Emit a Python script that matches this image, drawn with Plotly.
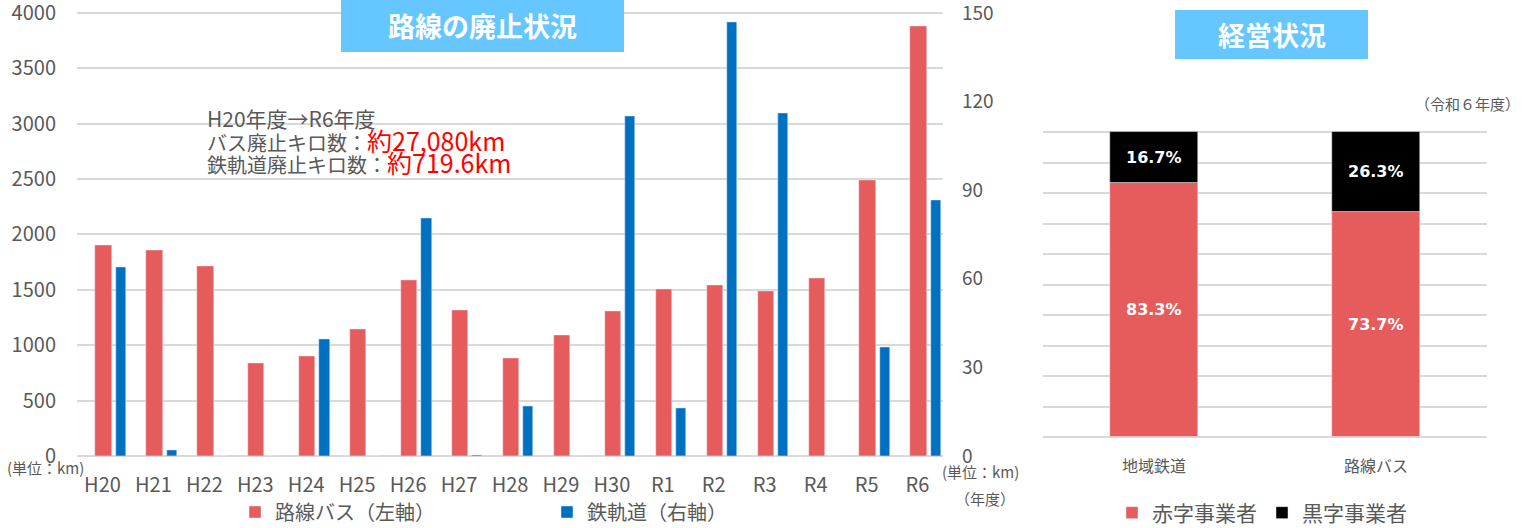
import plotly.graph_objects as go

# ---- data: left chart (route abolition) ----
years = ["H20", "H21", "H22", "H23", "H24", "H25", "H26", "H27", "H28",
         "H29", "H30", "R1", "R2", "R3", "R4", "R5", "R6"]
bus_km = [1905, 1855, 1716, 842, 901, 1145, 1590, 1312, 886,
          1087, 1303, 1508, 1544, 1490, 1607, 2490, 3883]
rail_km = [63.9, 2.1, 0, 0, 39.4, 0, 80.6, 0.4, 16.9,
           0, 115.1, 16.2, 146.9, 116.0, 0, 36.7, 86.7]
left_ticks = [0, 500, 1000, 1500, 2000, 2500, 3000, 3500, 4000]
right_ticks = [0, 30, 60, 90, 120, 150]

# ---- data: right chart (business condition) ----
operators = ["地域鉄道", "路線バス"]
deficit_pct = [83.3, 73.7]
surplus_pct = [16.7, 26.3]

W, H = 1524, 528
RED = "#E65C5C"
BLUE = "#0070C0"
GRAY = "#595959"
GRID = "#D9D9D9"
TITLE_BG = "#66C6FF"
FONT = "Noto Sans CJK JP"
EPS = 1.004  # small headroom so the top gridline is not clipped


def px(x):
    return x / W


def py(y):
    return 1 - y / H


fig = go.Figure()

fig.add_trace(go.Bar(
    x=years, y=bus_km, name="路線バス（左軸）", marker_color=RED,
    offset=-0.14, width=0.32, xaxis="x", yaxis="y", legend="legend",
))
fig.add_trace(go.Bar(
    x=years, y=rail_km, name="鉄軌道（右軸）", marker_color=BLUE,
    offset=0.26, width=0.2, xaxis="x", yaxis="y2", legend="legend2",
))

bar_text_font = dict(family="DejaVu Sans", size=16, color="white", weight="bold")
fig.add_trace(go.Bar(
    x=operators, y=deficit_pct, name="赤字事業者", marker_color=RED,
    width=0.4, xaxis="x2", yaxis="y3", legend="legend3",
    text=[f"{v:.1f}%" for v in deficit_pct], textposition="inside",
    insidetextanchor="middle", textfont=bar_text_font,
))
fig.add_trace(go.Bar(
    x=operators, y=surplus_pct, base=deficit_pct, name="黒字事業者",
    marker_color="#000000", width=0.4, xaxis="x2", yaxis="y3", legend="legend3",
    text=[f"{v:.1f}%" for v in surplus_pct], textposition="inside",
    insidetextanchor="middle", textfont=bar_text_font,
))

legend_common = dict(orientation="h", yanchor="middle", xanchor="left",
                     bgcolor="rgba(0,0,0,0)", borderwidth=0)

fig.update_layout(
    width=W, height=H,
    margin=dict(l=0, r=0, t=0, b=0, autoexpand=False),
    paper_bgcolor="white", plot_bgcolor="white",
    font=dict(family=FONT, color=GRAY),
    barmode="overlay",
    bargap=0,
    xaxis=dict(domain=[px(77), px(943)], type="category", range=[-0.5, 16.5],
               anchor="y", showgrid=False, showline=False, ticks="", automargin=False,
               tickfont=dict(size=20, color=GRAY), ticklabelstandoff=15),
    yaxis=dict(domain=[py(456), py(11.2)], range=[0, 4000 * EPS], tickvals=left_ticks,
               showgrid=True, gridcolor=GRID, gridwidth=1.5,
               zeroline=True, zerolinecolor=GRID, zerolinewidth=1.5, automargin=False,
               showline=False, ticks="", anchor="x", ticklabeloverflow="allow",
               tickfont=dict(size=20, color=GRAY), ticklabelstandoff=20),
    yaxis2=dict(overlaying="y", side="right", range=[0, 150 * EPS], tickvals=right_ticks,
                showgrid=False, zeroline=False, showline=False, ticks="", anchor="x",
                automargin=False, ticklabeloverflow="allow",
                tickfont=dict(size=19, color=GRAY), ticklabelstandoff=18),
    xaxis2=dict(domain=[px(1043), px(1487)], type="category", range=[-0.5, 1.5],
                anchor="y3", showgrid=False, showline=False, ticks="", automargin=False,
                tickfont=dict(size=16, color=GRAY), ticklabelstandoff=18),
    yaxis3=dict(domain=[py(437), py(130.8)], range=[0, 100 * EPS], dtick=10,
                showgrid=True, gridcolor=GRID, gridwidth=1.5,
                zeroline=True, zerolinecolor=GRID, zerolinewidth=1.5, automargin=False,
                showline=False, showticklabels=False, ticks="", anchor="x2"),
    legend=dict(x=px(235), y=py(512), font=dict(size=20, color=GRAY), **legend_common),
    legend2=dict(x=px(547), y=py(512), font=dict(size=20, color=GRAY), **legend_common),
    legend3=dict(x=px(1112), y=py(513), font=dict(size=21, color=GRAY), **legend_common),
    showlegend=True,
)

# title boxes
fig.add_shape(type="rect", xref="paper", yref="paper",
              x0=px(341), x1=px(624), y0=py(52), y1=py(-2),
              fillcolor=TITLE_BG, line_width=0, layer="above")
fig.add_shape(type="rect", xref="paper", yref="paper",
              x0=px(1175), x1=px(1368), y0=py(59), y1=py(10),
              fillcolor=TITLE_BG, line_width=0, layer="above")

annos = [
    dict(x=px(482.5), y=py(26), text="<b>路線の廃止状況</b>", xanchor="center",
         yanchor="middle", font=dict(size=27, color="white")),
    dict(x=px(1271.5), y=py(34), text="<b>経営状況</b>", xanchor="center",
         yanchor="middle", font=dict(size=27, color="white")),
    dict(x=px(205), y=py(118), text="H20年度→R6年度", xanchor="left",
         yanchor="middle", font=dict(size=21, color=GRAY)),
    dict(x=px(205), y=py(140),
         text="バス廃止キロ数：<span style='color:#FF0000;font-size:25px'>約27,080km</span>",
         xanchor="left", yanchor="middle", font=dict(size=20, color=GRAY)),
    dict(x=px(205), y=py(162),
         text="鉄軌道廃止キロ数：<span style='color:#FF0000;font-size:25px'>約719.6km</span>",
         xanchor="left", yanchor="middle", font=dict(size=20, color=GRAY)),
    dict(x=px(5), y=py(467), text="(単位：km)", xanchor="left",
         yanchor="middle", font=dict(size=15, color=GRAY)),
    dict(x=px(940), y=py(471), text="(単位：km)", xanchor="left",
         yanchor="middle", font=dict(size=15, color=GRAY)),
    dict(x=px(953), y=py(498), text="（年度）", xanchor="left",
         yanchor="middle", font=dict(size=15, color=GRAY)),
    dict(x=px(1522), y=py(103), text="（令和６年度）", xanchor="right",
         yanchor="middle", font=dict(size=15, color=GRAY)),
]
for a in annos:
    fig.add_annotation(xref="paper", yref="paper", showarrow=False, **a)

fig.write_html(
    "out.html",
    config={"displayModeBar": False},
    post_script="document.body.style.margin='0';document.body.style.padding='0';"
                "document.body.style.overflow='hidden';",
)
